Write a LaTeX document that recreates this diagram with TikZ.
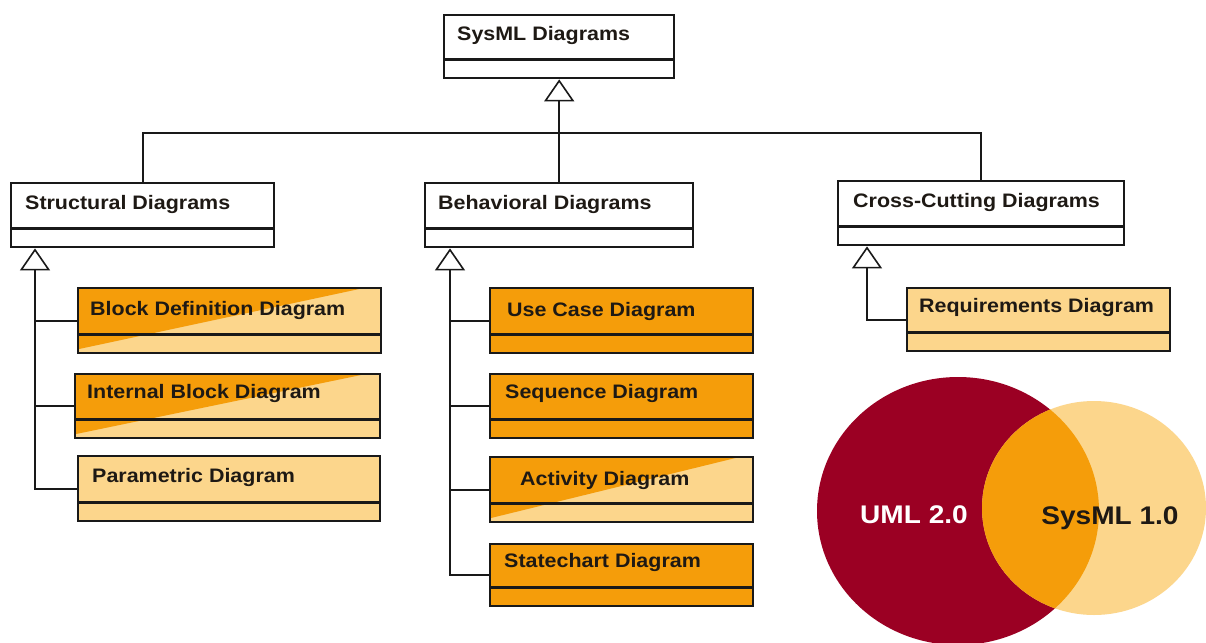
\documentclass[tikz,border=0pt]{standalone}
\usepackage{fontspec}
\setmainfont{Liberation Sans}[FakeStretch=1.1]
\usetikzlibrary{arrows.meta,calc}
\definecolor{umlorange}{RGB}{245,157,10}
\definecolor{umllight}{RGB}{252,214,140}
\definecolor{umlred}{RGB}{155,0,35}
\definecolor{umltext}{RGB}{30,25,20}
\definecolor{umlline}{RGB}{25,25,25}
\begin{document}
\begin{tikzpicture}[x=1pt,y=-1pt,
 box/.style={draw=umlline, line width=2.4pt, rectangle, inner sep=0pt, anchor=north west},
 lab/.style={font=\bfseries\fontsize{19.5}{22}\selectfont, text=umltext, inner sep=0pt, anchor=base west},
 conn/.style={line width=1.6pt, draw=umlline},
 gen/.style={conn, -{Triangle[open, width=30pt, length=22pt]}},
 split/.style={path picture={\fill[umlorange] (path picture bounding box.north west) -- ($(path picture bounding box.north west)!#1!(path picture bounding box.north east)$) -- ([yshift=4pt]path picture bounding box.south west) -- cycle;}},
 venn/.style={font=\bfseries\fontsize{25.5}{28}\selectfont, inner sep=0pt, anchor=base}
 ]
\useasboundingbox (0,0) rectangle (1206,642);
\fill[white] (0,0) rectangle (1206,642);

\newcommand\umlbox[6]{%
 \node[box, fill=#6, minimum width=#4pt, minimum height=#5pt] (#1) at (#2,#3) {};
 \draw[line width=2.4pt, draw=umlline] ([yshift=20pt]#1.south west) -- ([yshift=20pt]#1.south east);
}

% top level
\umlbox{sysml}{443}{14}{230}{63}{white}
\umlbox{struct}{10}{182}{263}{64}{white}
\umlbox{beh}{424}{182}{268}{64}{white}
\umlbox{cross}{837}{180}{286}{64}{white}

% structural children
\node[box, fill=umllight, split=0.94, minimum width=303pt, minimum height=65pt] (bdd) at (77,287) {};
\draw[line width=2.4pt, draw=umlline] ([yshift=20pt]bdd.south west) -- ([yshift=20pt]bdd.south east);
\node[box, fill=umllight, split=0.95, minimum width=305pt, minimum height=64pt] (ibd) at (74,373) {};
\draw[line width=2.4pt, draw=umlline] ([yshift=20pt]ibd.south west) -- ([yshift=20pt]ibd.south east);
\umlbox{param}{77}{455}{302}{65}{umllight}

% behavioral children
\umlbox{uc}{489}{287}{263}{65}{umlorange}
\umlbox{seq}{489}{373}{263}{64}{umlorange}
\node[box, fill=umllight, split=0.945, minimum width=263pt, minimum height=65pt] (act) at (489,456) {};
\draw[line width=2.4pt, draw=umlline] ([yshift=20pt]act.south west) -- ([yshift=20pt]act.south east);
\umlbox{state}{489}{543}{263}{62}{umlorange}

% cross-cutting child
\umlbox{req}{906}{287}{263}{63}{umllight}

% labels
\node[lab] (sysmlL) at (457,41) {SysML Diagrams};
\node[lab] (structL) at (25,209) {Structural Diagrams};
\node[lab] (behL) at (438,209) {Behavioral Diagrams};
\node[lab] (crossL) at (853,207) {Cross-Cutting Diagrams};
\node[lab] (bddL) at (90,315) {Block Definition Diagram};
\node[lab] (ibdL) at (87,398) {Internal Block Diagram};
\node[lab] (paramL) at (92,482) {Parametric Diagram};
\node[lab] (ucL) at (507,316) {Use Case Diagram};
\node[lab] (seqL) at (505,398) {Sequence Diagram};
\node[lab] (actL) at (520,485) {Activity Diagram};
\node[lab] (stateL) at (504,567) {Statechart Diagram};
\node[lab] (reqL) at (919,312) {Requirements Diagram};

% top-level connectors
\coordinate (bus) at (558,133);
\draw[conn] (struct.north) |- (bus) -| (cross.north);
\draw[gen] (beh.north) -- (sysml.south);

% structural connectors
\path (struct.south west) ++(25,0) coordinate (sa1);
\draw[gen] (param.west) -| (sa1);
\draw[conn] (bdd.west) -- (bdd.west -| sa1);
\draw[conn] (ibd.west) -- (ibd.west -| sa1);

% behavioral connectors
\path (beh.south west) ++(26,0) coordinate (sa2);
\draw[gen] (state.west) -| (sa2);
\draw[conn] (uc.west) -- (uc.west -| sa2);
\draw[conn] (seq.west) -- (seq.west -| sa2);
\draw[conn] (act.west) -- (act.west -| sa2);

% cross-cutting connector
\path (cross.south west) ++(30,0) coordinate (sa3);
\draw[gen] (req.west) -| (sa3);

% Venn
\fill[umlred] (958,511) ellipse [x radius=141, y radius=134];
\fill[umllight] (1094,508) ellipse [x radius=112, y radius=107];
\begin{scope}
 \clip (958,511) ellipse [x radius=141, y radius=134];
 \fill[umlorange] (1094,508) ellipse [x radius=112, y radius=107];
\end{scope}
\node[venn, text=white] (uml) at (914,523) {UML 2.0};
\node[venn, text=umltext] (sysmlv) at (1110,524) {SysML 1.0};
\end{tikzpicture}
\end{document}
